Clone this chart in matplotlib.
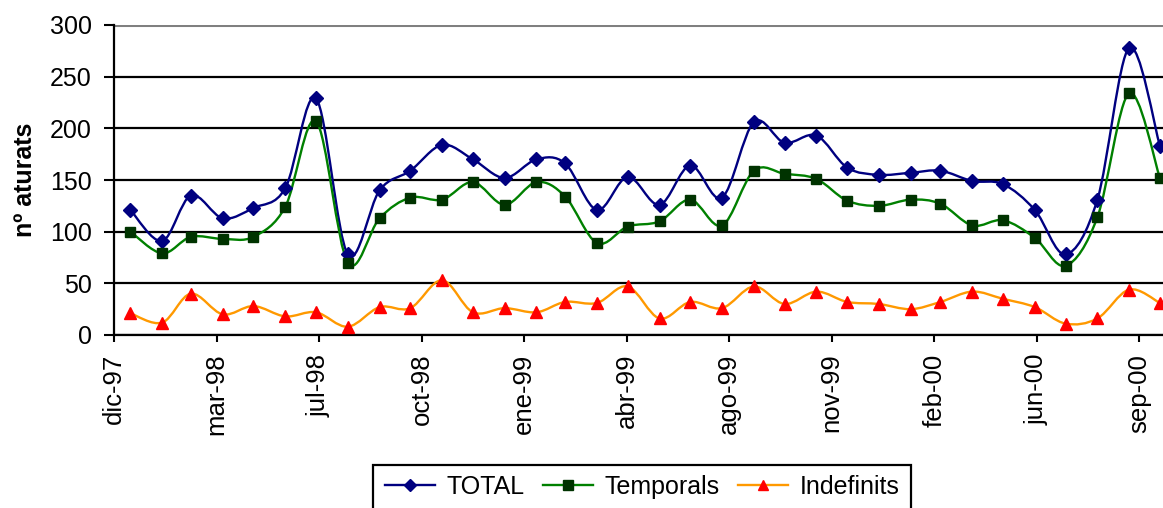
import datetime as dt
import numpy as np
import matplotlib
matplotlib.use("Agg")
import matplotlib.pyplot as plt
import matplotlib.dates as mdates
from matplotlib.path import Path
from matplotlib.patches import PathPatch, Rectangle
from matplotlib.lines import Line2D

plt.rcParams['font.family'] = ['Liberation Sans', 'DejaVu Sans']

# ---- data (monthly, Jan 1998 .. Oct 2000) ----
months = [dt.date(1998 + (i // 12), i % 12 + 1, 1) for i in range(34)]
total = [121, 91, 135, 113, 123, 142, 229, 78, 140, 159, 184, 170, 152, 170, 166, 121,
         153, 126, 164, 133, 206, 186, 193, 162, 155, 157, 159, 149, 146, 121, 78, 131, 278, 183]
temporals = [100, 79, 95, 93, 95, 124, 207, 70, 113, 133, 131, 148, 126, 148, 134, 89,
             105, 110, 131, 106, 159, 156, 151, 130, 125, 131, 127, 106, 111, 94, 67, 114, 234, 152]
indefinits = [21, 12, 40, 20, 28, 18, 22, 8, 27, 26, 53, 22, 26, 22, 32, 31,
              47, 16, 32, 26, 47, 30, 42, 32, 30, 25, 32, 42, 35, 27, 11, 16, 44, 31]
series_names = ["TOTAL", "Temporals", "Indefinits"]
tick_labels = ["dic-97", "mar-98", "jul-98", "oct-98", "ene-99", "abr-99",
               "ago-99", "nov-99", "feb-00", "jun-00", "sep-00"]

# ---- axis layout (date axis, major unit 100 days) ----
axis_start = dt.date(1997, 12, 16)
axis_end = dt.date(2000, 10, 4)
tick_step_days = 100

W, H = 1163, 508
fig = plt.figure(figsize=(W / 100, H / 100), dpi=100)
ax = fig.add_axes([114 / W, 1 - 335 / H, (W - 114) / W, (335 - 25) / H])

x = mdates.date2num(months)


def smooth_path(xs, ys):
    pts = np.column_stack([xs, ys]).astype(float)
    n = len(pts)
    verts = [pts[0]]
    codes = [Path.MOVETO]
    for i in range(n - 1):
        p0 = pts[i - 1] if i > 0 else pts[i]
        p1 = pts[i]
        p2 = pts[i + 1]
        p3 = pts[i + 2] if i + 2 < n else pts[i + 1]
        c1 = p1 + (p2 - p0) / 6.0
        c2 = p2 - (p3 - p1) / 6.0
        verts += [c1, c2, p2]
        codes += [Path.CURVE4] * 3
    return Path(verts, codes)


styles = [
    dict(line="#000080", marker="D", mfc="#000080", mec="#000080", ms=7.2),
    dict(line="#008000", marker="s", mfc="#003300", mec="#003300", ms=7.8),
    dict(line="#FF9900", marker="^", mfc="#FF0000", mec="#FF0000", ms=8.3),
]
handles = []
for vals, st, name in zip([total, temporals, indefinits], styles, series_names):
    patch = PathPatch(smooth_path(x, vals), facecolor="none", edgecolor=st["line"],
                      lw=1.7, zorder=3, capstyle="round", joinstyle="round")
    ax.add_patch(patch)
    ax.plot(x, vals, linestyle="none", marker=st["marker"], ms=st["ms"],
            mfc=st["mfc"], mec=st["mec"], zorder=4, clip_on=False)
    handles.append(Line2D([0], [0], color=st["line"], lw=1.7, marker=st["marker"],
                          ms=st["ms"] - 1.0, mfc=st["mfc"], mec=st["mec"]))

ax.set_ylim(0, 300)
ax.set_yticks(np.arange(0, 301, 50))
ax.set_xlim(mdates.date2num(axis_start), mdates.date2num(axis_end))
tick_pos = [mdates.date2num(axis_start + dt.timedelta(days=tick_step_days * k))
            for k in range(len(tick_labels))]
ax.set_xticks(tick_pos)
ax.set_xticklabels(tick_labels, rotation=90, fontsize=18.5)
ax.tick_params(axis="y", labelsize=18, length=7, width=1.5, pad=9, direction="out")
ax.tick_params(axis="x", length=5, width=1.5, pad=8.5, direction="out")

ax.grid(axis="y", color="black", lw=1.6, zorder=1)
ax.set_axisbelow(True)
gl = ax.get_ygridlines()
gl[-1].set_color("#808080")
gl[-1].set_linewidth(2.2)
ax.spines["top"].set_visible(False)
ax.spines["right"].set_visible(False)
for s in ("left", "bottom"):
    ax.spines[s].set_linewidth(1.6)
    ax.spines[s].set_zorder(2)

fig.text(25 / W, 1 - 180 / H, "nº aturats", rotation=90, fontsize=18, fontweight="bold",
         ha="center", va="center")

# legend box (extends below the bottom edge of the image, as in the reference)
box = Rectangle((373 / W, -20 / H), (911 - 373) / W, (508 - 465 + 20) / H,
                transform=fig.transFigure, facecolor="white", edgecolor="black",
                lw=1.6, zorder=1, clip_on=False)
fig.patches.append(box)

leg = fig.legend(handles, series_names, loc="upper center",
                 bbox_to_anchor=(642 / W, 1 - 465 / H), ncol=3, frameon=False,
                 fontsize=18, handlelength=2.0, handletextpad=0.45, columnspacing=0.75,
                 borderpad=0.4, borderaxespad=0)
leg.set_zorder(5)

fig.savefig("out.png", dpi=100)
